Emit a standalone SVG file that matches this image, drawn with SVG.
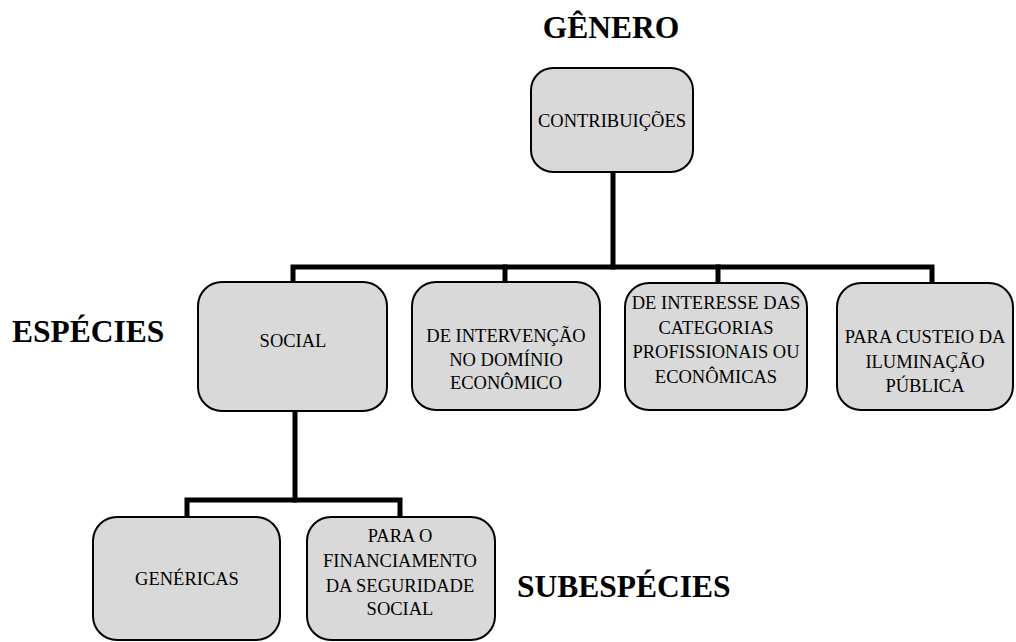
<svg xmlns="http://www.w3.org/2000/svg" width="1016" height="642" viewBox="0 0 1016 642">
<style>
.box{fill:#d9d9d9;stroke:#000;stroke-width:2}
.t{font-family:"Liberation Serif","Times New Roman",serif;font-size:18.5px;text-anchor:middle;fill:#000}
.h{font-family:"Liberation Serif","Times New Roman",serif;font-size:31.5px;font-weight:bold;fill:#000}
.c{fill:none;stroke:#000;stroke-width:5;stroke-linejoin:miter;stroke-linecap:square}
</style>
<rect width="1016" height="642" fill="#fff"/>
<g id="connectors">
<path class="c" d="M613,173 V267"/>
<path class="c" d="M293,282 V267 H932 V282"/>
<path class="c" d="M505,267 V282"/>
<path class="c" d="M718,267 V282"/>
<path class="c" d="M295,411 V500"/>
<path class="c" d="M187,516 V500 H400 V516"/>
</g>
<g id="label-genero"><text class="h" x="611" y="38" text-anchor="middle">GÊNERO</text></g>
<g id="label-especies"><text class="h" x="12" y="342">ESPÉCIES</text></g>
<g id="label-subespecies"><text class="h" x="517" y="597">SUBESPÉCIES</text></g>
<g id="contribuicoes">
<rect class="box" x="531" y="68" width="162" height="104" rx="22"/>
<text class="t" x="612" y="127">CONTRIBUIÇÕES</text>
</g>
<g id="social">
<rect class="box" x="198" y="282" width="189" height="129" rx="24"/>
<text class="t" x="293" y="347">SOCIAL</text>
</g>
<g id="intervencao">
<rect class="box" x="412" y="282" width="188" height="128" rx="24"/>
<text class="t" x="506" y="342">DE INTERVENÇÃO</text>
<text class="t" x="506" y="366">NO DOMÍNIO</text>
<text class="t" x="506" y="389">ECONÔMICO</text>
</g>
<g id="interesse">
<rect class="box" x="625" y="283" width="182" height="127" rx="24"/>
<text class="t" x="716" y="309">DE INTERESSE DAS</text>
<text class="t" x="716" y="334">CATEGORIAS</text>
<text class="t" x="716" y="358">PROFISSIONAIS OU</text>
<text class="t" x="716" y="383">ECONÔMICAS</text>
</g>
<g id="iluminacao">
<rect class="box" x="837" y="283" width="176" height="127" rx="24"/>
<text class="t" x="925" y="343">PARA CUSTEIO DA</text>
<text class="t" x="925" y="368">ILUMINAÇÃO</text>
<text class="t" x="925" y="392">PÚBLICA</text>
</g>
<g id="genericas">
<rect class="box" x="93" y="517" width="187" height="123" rx="24"/>
<text class="t" x="187" y="585">GENÉRICAS</text>
</g>
<g id="financiamento">
<rect class="box" x="307" y="517" width="188" height="123" rx="24"/>
<text class="t" x="400" y="542">PARA O</text>
<text class="t" x="400" y="567">FINANCIAMENTO</text>
<text class="t" x="400" y="592">DA SEGURIDADE</text>
<text class="t" x="400" y="615">SOCIAL</text>
</g>
</svg>
